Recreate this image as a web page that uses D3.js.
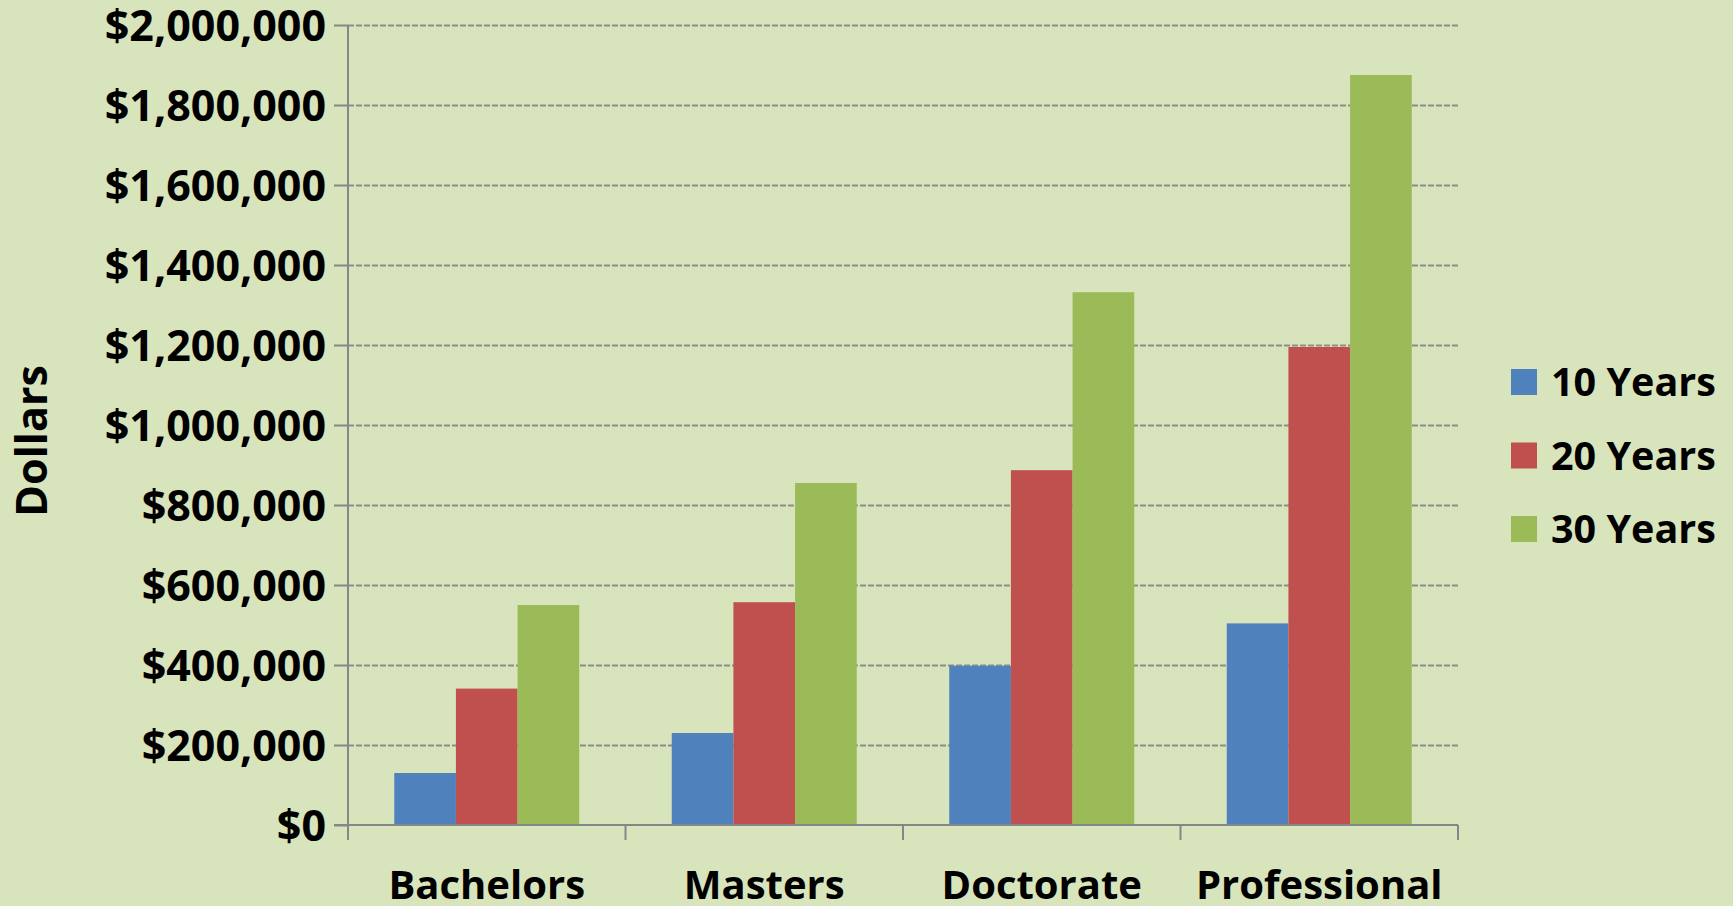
<!DOCTYPE html>
<html>
<head>
<meta charset="utf-8">
<script src="https://cdn.jsdelivr.net/npm/d3@7"></script>
<style>
  body { margin: 0; background: #d8e4bc; }
  svg text { font-family: "Open Sans", sans-serif; font-weight: bold; fill: #000; }
</style>
</head>
<body>
<div id="chart"></div>
<script>
// categories and series
var categories = ["Bachelors", "Masters", "Doctorate", "Professional"];
var seriesNames = ["10 Years", "20 Years", "30 Years"];
var years10 = [130000, 230000, 398000, 504000];
var years20 = [341000, 557000, 887000, 1195000];
var years30 = [550000, 855000, 1332000, 1875000];
var yTicks = [0, 200000, 400000, 600000, 800000, 1000000, 1200000, 1400000, 1600000, 1800000, 2000000];

var colors = ["#4f81bd", "#c0504d", "#9bbb59"];
var width = 1733, height = 906;

var svg = d3.select("#chart").append("svg")
    .attr("width", width)
    .attr("height", height);

svg.append("rect")
    .attr("width", width).attr("height", height)
    .attr("fill", "#d8e4bc");

// plot area (window.top is read only, so no "top" here)
var plotL = 348, plotR = 1458, plotT = 25, plotB = 825;

var x = d3.scaleBand().domain(categories).range([plotL, plotR]);
// excel gap width 150% -> 0.75 bar on each side
var xs = d3.scaleBand().domain(seriesNames).range([0, x.bandwidth()]).paddingOuter(0.75);
var y = d3.scaleLinear().domain([0, 2000000]).range([plotB, plotT]);

// gridlines
svg.append("g")
    .attr("transform", "translate(" + plotL + ",0)")
    .call(d3.axisLeft(y).tickValues(yTicks.slice(1)).tickSize(-(plotR - plotL)).tickFormat(""))
    .call(function (g) {
        g.select(".domain").remove();
        g.selectAll("line")
            .attr("stroke", "#8c8c8c")
            .attr("stroke-width", 2)
            .attr("stroke-dasharray", "6,2");
    });

// bars
var rows = seriesNames.map(function (s, i) {
    var vals = [years10, years20, years30][i];
    return categories.map(function (c, j) { return {cat: c, series: s, value: vals[j]}; });
});

svg.selectAll("g.series")
    .data(rows)
    .enter().append("g")
    .attr("class", "series")
    .attr("fill", function (d, i) { return colors[i]; })
    .selectAll("rect")
    .data(function (d) { return d; })
    .enter().append("rect")
    .attr("x", function (d) { return x(d.cat) + xs(d.series); })
    .attr("width", xs.bandwidth())
    .attr("y", function (d) { return y(d.value); })
    .attr("height", function (d) { return y(0) - y(d.value); });

// y axis
var fmt = d3.format(",");
svg.append("g")
    .attr("transform", "translate(" + plotL + ",0)")
    .call(d3.axisLeft(y).tickValues(yTicks).tickSize(14).tickPadding(8)
        .tickFormat(function (d) { return "$" + fmt(d); }))
    .call(function (g) {
        g.select(".domain").remove();
        g.selectAll("line").attr("stroke", "#868686").attr("stroke-width", 2);
        g.selectAll("text").style("font-size", "43px").attr("dy", "0.36em");
    });

// x axis
var xAxis = svg.append("g");
xAxis.append("line")
    .attr("x1", plotL - 14).attr("x2", plotR)
    .attr("y1", plotB).attr("y2", plotB)
    .attr("stroke", "#868686").attr("stroke-width", 2);
xAxis.append("line")
    .attr("x1", plotL).attr("x2", plotL)
    .attr("y1", plotT).attr("y2", plotB + 15)
    .attr("stroke", "#868686").attr("stroke-width", 2);
var bounds = categories.map(function (c) { return x(c); }).concat([plotR]);
xAxis.selectAll("line.tick")
    .data(bounds)
    .enter().append("line")
    .attr("class", "tick")
    .attr("x1", function (d) { return d; }).attr("x2", function (d) { return d; })
    .attr("y1", plotB).attr("y2", plotB + 15)
    .attr("stroke", "#868686").attr("stroke-width", 2);
xAxis.selectAll("text")
    .data(categories)
    .enter().append("text")
    .attr("x", function (d) { return x(d) + x.bandwidth() / 2; })
    .attr("y", 899)
    .attr("text-anchor", "middle")
    .style("font-size", "40px")
    .text(function (d) { return d; });

// y title
svg.append("text")
    .attr("transform", "translate(47,441) rotate(-90)")
    .attr("text-anchor", "middle")
    .style("font-size", "43px")
    .text("Dollars");

// legend
var legend = svg.append("g").selectAll("g")
    .data(seriesNames)
    .enter().append("g")
    .attr("transform", function (d, i) { return "translate(1511," + (382 + i * 73.5) + ")"; });
legend.append("rect")
    .attr("y", -13).attr("width", 26).attr("height", 26)
    .attr("fill", function (d, i) { return colors[i]; });
legend.append("text")
    .attr("x", 40).attr("dy", "0.36em")
    .style("font-size", "39.5px")
    .text(function (d) { return d; });
</script>
</body>
</html>
